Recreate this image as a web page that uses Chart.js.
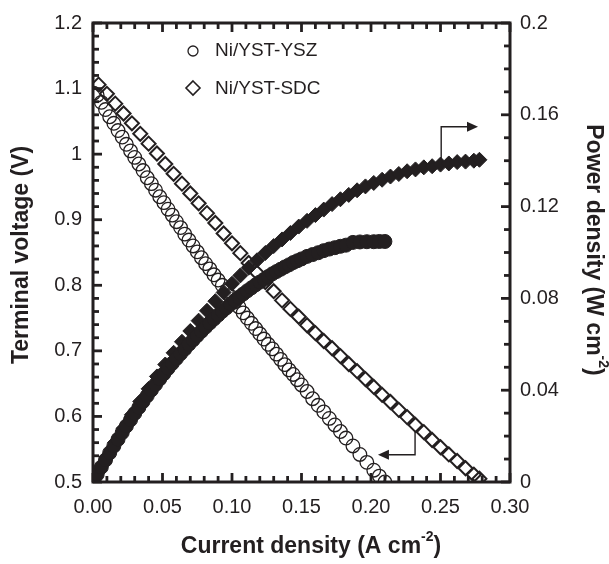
<!DOCTYPE html>
<html><head><meta charset="utf-8">
<script src="https://cdn.jsdelivr.net/npm/chart.js@4.4.0/dist/chart.umd.min.js"></script>
<style>html,body{margin:0;padding:0;background:#fff}canvas{display:block}</style>
</head><body>
<canvas id="c" width="609" height="564"></canvas>
<script>
// ---------- data ----------
const seriesNames = ['Ni/YST-YSZ', 'Ni/YST-SDC'];

const yszCurrent = [0.0005,0.003,0.006,0.009,0.012,0.015,0.018,0.021,0.024,0.027,0.030,0.033,0.036,0.039,0.042,0.045,0.048,0.051,0.054,0.057,0.060,0.063,0.066,0.069,0.072,0.075,0.078,0.081,0.084,0.087,0.090,0.093,0.096,0.099,0.102,0.105,0.108,0.111,0.114,0.117,0.120,0.123,0.126,0.129,0.132,0.135,0.138,0.141,0.144,0.147,0.150,0.154,0.158,0.162,0.166,0.170,0.174,0.178,0.182,0.187,0.192,0.197,0.202,0.206,0.210];
const yszVoltage = [1.093,1.090,1.079,1.068,1.057,1.047,1.036,1.026,1.015,1.005,0.995,0.985,0.975,0.964,0.955,0.945,0.935,0.926,0.916,0.907,0.897,0.888,0.878,0.869,0.860,0.851,0.842,0.833,0.825,0.816,0.808,0.800,0.791,0.783,0.775,0.767,0.758,0.750,0.742,0.734,0.726,0.718,0.710,0.703,0.695,0.687,0.679,0.671,0.664,0.656,0.648,0.638,0.627,0.617,0.607,0.597,0.587,0.577,0.567,0.555,0.542,0.530,0.518,0.509,0.500];
const yszPower = [0.0005,0.0033,0.0065,0.0096,0.0127,0.0157,0.0186,0.0215,0.0244,0.0271,0.0299,0.0325,0.0351,0.0376,0.0401,0.0425,0.0449,0.0472,0.0495,0.0517,0.0538,0.0559,0.0579,0.0600,0.0619,0.0638,0.0657,0.0675,0.0693,0.0710,0.0727,0.0744,0.0759,0.0775,0.0791,0.0805,0.0819,0.0833,0.0846,0.0859,0.0871,0.0883,0.0895,0.0907,0.0917,0.0927,0.0937,0.0946,0.0956,0.0964,0.0972,0.0983,0.0991,0.0999,0.1008,0.1015,0.1021,0.1027,0.1032,0.1044,0.1046,0.1047,0.1047,0.1048,0.1048];

const sdcCurrent = [0.004,0.010,0.016,0.022,0.028,0.034,0.040,0.046,0.052,0.058,0.064,0.070,0.076,0.082,0.088,0.094,0.100,0.106,0.112,0.118,0.124,0.130,0.136,0.142,0.148,0.154,0.160,0.166,0.172,0.178,0.184,0.190,0.196,0.202,0.208,0.214,0.220,0.226,0.232,0.238,0.244,0.250,0.256,0.262,0.268,0.274,0.278];
const sdcVoltage = [1.106,1.092,1.077,1.062,1.047,1.031,1.016,1.001,0.985,0.970,0.955,0.940,0.925,0.910,0.895,0.879,0.864,0.849,0.834,0.819,0.805,0.791,0.777,0.764,0.752,0.739,0.727,0.715,0.704,0.692,0.680,0.669,0.657,0.645,0.633,0.622,0.610,0.599,0.587,0.576,0.564,0.553,0.542,0.532,0.521,0.511,0.505];
const sdcPower = [0.0044,0.0109,0.0172,0.0234,0.0293,0.0351,0.0406,0.0460,0.0512,0.0563,0.0611,0.0658,0.0703,0.0746,0.0788,0.0826,0.0864,0.0900,0.0934,0.0966,0.0998,0.1028,0.1057,0.1085,0.1113,0.1138,0.1163,0.1187,0.1211,0.1232,0.1251,0.1271,0.1288,0.1303,0.1317,0.1331,0.1342,0.1354,0.1362,0.1371,0.1376,0.1383,0.1388,0.1394,0.1396,0.1400,0.1404];

const xTickValues = [0, 0.05, 0.10, 0.15, 0.20, 0.25, 0.30];
const xTickLabels = ['0.00','0.05','0.10','0.15','0.20','0.25','0.30'];
const yLeftTickValues = [0.5, 0.6, 0.7, 0.8, 0.9, 1.0, 1.1, 1.2];
const yLeftTickLabels = ['0.5','0.6','0.7','0.8','0.9','1','1.1','1.2'];
const yRightTickValues = [0, 0.04, 0.08, 0.12, 0.16, 0.2];
const yRightTickLabels = ['0','0.04','0.08','0.12','0.16','0.2'];

const xTitle = ['Current density (A cm', '-2', ')'];
const yLeftTitle = 'Terminal voltage (V)';
const yRightTitle = ['Power density (W cm', '-2', ')'];

// ---------- styling / layout ----------
const INK = '#231f20';
const FONT = '"Liberation Sans", Arial, Helvetica, sans-serif';
const MINOR = { x: 0.01, y: 0.02, y2: 0.01 };
// arrows in data coordinates (annotation)
const arrowPower = { x: 0.2505, yFrom: 0.1403, yTo: 0.1548, xTip: 0.277 };
const arrowVolt = { x: 0.2317, yFrom: 0.5765, yTo: 0.5415, xTip: 0.205 };

function pts(xs, ys) { return xs.map((x, i) => ({ x: x, y: ys[i] })); }

function seg(ctx, x1, y1, x2, y2) { ctx.beginPath(); ctx.moveTo(x1, y1); ctx.lineTo(x2, y2); ctx.stroke(); }

function drawSupText(ctx, parts, size, cx, cy) {
  const big = 'bold ' + size + 'px ' + FONT;
  const small = 'bold ' + Math.round(size * 0.62) + 'px ' + FONT;
  ctx.font = big; const w0 = ctx.measureText(parts[0]).width; const w2 = ctx.measureText(parts[2]).width;
  ctx.font = small; const w1 = ctx.measureText(parts[1]).width;
  let x = cx - (w0 + w1 + w2) / 2;
  ctx.textAlign = 'left'; ctx.textBaseline = 'middle';
  ctx.font = big; ctx.fillText(parts[0], x, cy); x += w0;
  ctx.font = small; ctx.fillText(parts[1], x, cy - size * 0.42); x += w1;
  ctx.font = big; ctx.fillText(parts[2], x, cy);
}

const framePlugin = {
  id: 'frame',
  beforeDatasetsDraw(chart) {
    const { ctx, chartArea: a, scales } = chart;
    const sx = scales.x, sy = scales.y, sy2 = scales.y2;
    ctx.save();
    ctx.strokeStyle = INK;
    ctx.lineWidth = 3;
    ctx.strokeRect(a.left, a.top, a.right - a.left, a.bottom - a.top);
    ctx.lineWidth = 2.8;
    const MAJ = 9, MIN = 6;
    const isMajor = (v, arr) => arr.some(t => Math.abs(t - v) < 1e-9);
    for (let v = sx.min; v <= sx.max + 1e-9; v += MINOR.x) {
      const vv = Math.round(v * 1000) / 1000;
      const p = sx.getPixelForValue(vv);
      const L = isMajor(vv, xTickValues) ? MAJ : MIN;
      seg(ctx, p, a.bottom, p, a.bottom - L);
      seg(ctx, p, a.top, p, a.top + L);
    }
    for (let v = sy.min; v <= sy.max + 1e-9; v += MINOR.y) {
      const vv = Math.round(v * 1000) / 1000;
      const p = sy.getPixelForValue(vv);
      const L = isMajor(vv, yLeftTickValues) ? MAJ : MIN;
      seg(ctx, a.left, p, a.left + L, p);
    }
    for (let v = sy2.min; v <= sy2.max + 1e-9; v += MINOR.y2) {
      const vv = Math.round(v * 1000) / 1000;
      const p = sy2.getPixelForValue(vv);
      const L = isMajor(vv, yRightTickValues) ? MAJ : MIN;
      seg(ctx, a.right, p, a.right - L, p);
    }
    ctx.restore();
  },
  afterDraw(chart) {
    const { ctx, chartArea: a, scales } = chart;
    const sx = scales.x, sy = scales.y, sy2 = scales.y2;
    ctx.save();
    ctx.fillStyle = INK; ctx.strokeStyle = INK;
    // axis titles
    drawSupText(ctx, xTitle, 23, 311, 547);
    ctx.save();
    ctx.translate(22, 255); ctx.rotate(-Math.PI / 2);
    ctx.font = 'bold 23px ' + FONT; ctx.textAlign = 'center'; ctx.textBaseline = 'middle';
    ctx.fillText(yLeftTitle, 0, 0);
    ctx.restore();
    ctx.save();
    ctx.translate(593, 250); ctx.rotate(Math.PI / 2);
    drawSupText(ctx, yRightTitle, 23, 0, 0);
    ctx.restore();

    // legend
    ctx.font = '19px ' + FONT; ctx.textAlign = 'left'; ctx.textBaseline = 'middle';
    ctx.lineWidth = 1.3;
    ctx.beginPath(); ctx.arc(193, 51, 5, 0, Math.PI * 2); ctx.stroke();
    ctx.fillText(seriesNames[0], 215, 51);
    ctx.lineWidth = 1.6;
    ctx.beginPath(); ctx.moveTo(193, 81); ctx.lineTo(200, 88); ctx.lineTo(193, 95); ctx.lineTo(186, 88); ctx.closePath(); ctx.stroke();
    ctx.fillText(seriesNames[1], 215, 89);

    // arrows
    ctx.lineWidth = 1.4;
    function arrow(spec, yScale) {
      const x = sx.getPixelForValue(spec.x);
      const y1 = yScale.getPixelForValue(spec.yFrom);
      const y2 = yScale.getPixelForValue(spec.yTo);
      const xt = sx.getPixelForValue(spec.xTip);
      const dir = xt > x ? 1 : -1;
      const head = 11;
      ctx.beginPath(); ctx.moveTo(x, y1); ctx.lineTo(x, y2); ctx.lineTo(xt - dir * head, y2); ctx.stroke();
      ctx.beginPath(); ctx.moveTo(xt, y2); ctx.lineTo(xt - dir * head, y2 - 5); ctx.lineTo(xt - dir * head, y2 + 5); ctx.closePath(); ctx.fill();
    }
    arrow(arrowPower, sy2);
    arrow(arrowVolt, sy);
    ctx.restore();
  }
};

const tickFont = { family: FONT, size: 20 };

new Chart(document.getElementById('c'), {
  type: 'scatter',
  data: {
    datasets: [
      { label: seriesNames[0] + ' power', data: pts(yszCurrent, yszPower), yAxisID: 'y2', pointStyle: 'circle', pointRadius: 7, backgroundColor: INK, borderColor: INK, borderWidth: 1 },
      { label: seriesNames[1] + ' power', data: pts(sdcCurrent, sdcPower), yAxisID: 'y2', pointStyle: 'rectRot', pointRadius: 7.5, backgroundColor: INK, borderColor: INK, borderWidth: 1 },
      { label: seriesNames[0], data: pts(yszCurrent, yszVoltage), yAxisID: 'y', pointStyle: 'circle', pointRadius: 6.8, backgroundColor: 'rgba(0,0,0,0)', borderColor: INK, borderWidth: 1.3 },
      { label: seriesNames[1], data: pts(sdcCurrent, sdcVoltage), yAxisID: 'y', pointStyle: 'rectRot', pointRadius: 7, backgroundColor: 'rgba(0,0,0,0)', borderColor: INK, borderWidth: 2 }
    ]
  },
  options: {
    responsive: false,
    animation: false,
    devicePixelRatio: 1,
    layout: { padding: { top: 23, left: 0, right: 0, bottom: 0 } },
    plugins: { legend: { display: false }, tooltip: { enabled: false } },
    events: [],
    scales: {
      x: {
        type: 'linear', position: 'bottom', min: 0, max: 0.3,
        grid: { display: false, drawTicks: false }, border: { display: false },
        ticks: { font: tickFont, color: INK, padding: 13, autoSkip: false, maxRotation: 0, callback: (v, i) => xTickLabels[i] },
        afterBuildTicks: s => { s.ticks = xTickValues.map(v => ({ value: v })); },
        afterFit: s => { s.height = 82; }
      },
      y: {
        type: 'linear', position: 'left', min: 0.5, max: 1.2,
        grid: { display: false, drawTicks: false }, border: { display: false },
        ticks: { font: tickFont, color: INK, padding: 11, autoSkip: false, callback: (v, i) => yLeftTickLabels[i] },
        afterBuildTicks: s => { s.ticks = yLeftTickValues.map(v => ({ value: v })); },
        afterFit: s => { s.width = 93; }
      },
      y2: {
        type: 'linear', position: 'right', min: 0, max: 0.2,
        grid: { display: false, drawTicks: false }, border: { display: false },
        ticks: { font: tickFont, color: INK, padding: 10, autoSkip: false, callback: (v, i) => yRightTickLabels[i] },
        afterBuildTicks: s => { s.ticks = yRightTickValues.map(v => ({ value: v })); },
        afterFit: s => { s.width = 99; }
      }
    }
  },
  plugins: [framePlugin]
});
</script>
</body></html>
